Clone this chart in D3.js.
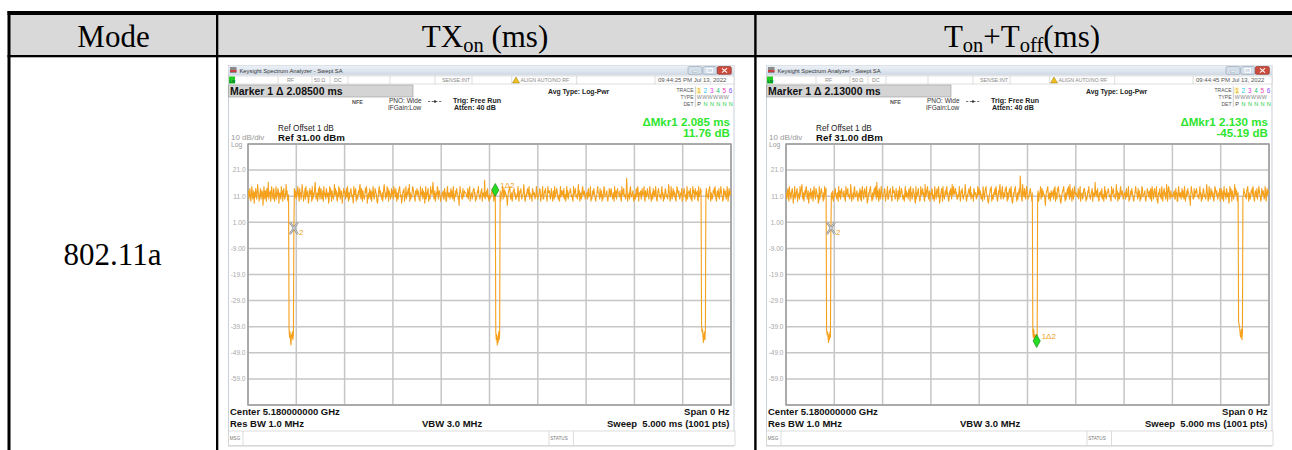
<!DOCTYPE html>
<html><head><meta charset="utf-8">
<script src="https://cdn.jsdelivr.net/npm/d3@7"></script>
<style>
html,body{margin:0;padding:0;background:#fff;}
svg{display:block;}
text{white-space:pre;}
</style></head>
<body>
<svg id="c" width="1292" height="450"></svg>
<script>
// ================= DATA =================
const headerParts = [
  [{t:"Mode"}],
  [{t:"TX"},{t:"on",sub:true},{t:" (ms)"}],
  [{t:"T"},{t:"on",sub:true},{t:"+T"},{t:"off",sub:true},{t:"(ms)"}]
];
const modes = ["802.11a"];

const refLevel = 31;          // dBm, top of graticule
const dbPerDiv = 10;
const yDivisions = 10;
const xDivisions = 10;
const sweepMs = 5.0;
const sweepPts = 1001;
const yTickValues = [21, 11, 1, -9, -19, -29, -39, -49, -59];
const yTickLabels = ["21.0", "11.0", "1.00", "-9.00", "-19.0", "-29.0", "-39.0", "-49.0", "-59.0"];

const markerBoxText = ["Marker 1 \u0394 2.08500 ms", "Marker 1 \u0394 2.13000 ms"];
const timestamps = ["09:44:25 PM Jul 13, 2022", "09:44:45 PM Jul 13, 2022"];
const deltaTimeText = ["\u0394Mkr1 2.085 ms", "\u0394Mkr1 2.130 ms"];
const deltaLevelText = ["11.76 dB", "-45.19 dB"];

// trace noise: one letter per sweep point; 'j' = 11.5 dBm, each letter step = 0.8 dB
const noiseScale = "abcdefghijklmnopqrst";
const noiseA = [
"jlhkmigjnkhjlfkimjhkoljgikmhjlkeinjhlkgmjiphkjlgin",
"kjhmlgijnhkjmlfjkihnjlgkmjhikojlhgjkmnihjlkegjmkil",
"hkjnligmjkhjolkgijmhnjkilfhjmkjlgnhikjmplhjkgimjnh",
"jmkhilgnjkjhmlijkfhnjmkgljihkojmjlhgkinjmhjlkfijmk",
"ljhkminjgkhjlmkijhfnkjlmgjihkljnojhmkgljihjmknlfjh",
"kimjhlgkjnjhimlkjgfhkmnjljihkgjmoljhkinjmglkjhimjl",
"jhnklimjgkjhlmnkijfhjlkmgjinhkjlmjogkhjilnmkjhgljk",
"mjlkhignjkjmhlikfjnhkjlmgijhnkljmpkhjlgikjnmhjlkig",
"iikjlhhmjkgglnjikkhjmiljhnkgjiljmkkhiejnlkjhhmijlk",
"kkjiimhjlngjjkhilmmjkgihjlknjjhiklmgjkjiqhkjlimjhg",
"jhiiklmjjgkhnjlikjhmjjlgikknhjmilkjjheiklmnjhjkgil",
"lmjkhhjiknjgjlkmihjjkolhgjiklmjjnhkiijgmljkkhjinlj",
"hjjkmlgijknhhjlkmjigjnkkljhimjjglkhnijkmljhhjgknil",
"kjlimhjjgknilhjkkmljijhgnjklmiijhkojlgjkhimnjjlkhi",
"jkkhlmijjngihkljmkjhgijlnkkjhmijlgjhknmijjklhgijmk",
"ilmjjhkkgnjilhjmkkjiljhgnkjlmijjhkrlgijkhmnjijklhg",
"jjhkmilnjgkkjlhimjjknhgljikmjjhlnkigjkhmjlijnkhgjl",
"mkiijhlnjkgjhkmlijjhkoljginkhjmjlikhgjnmkjlihjkjmg",
"hjlmkijgjnhkkljimhjgjnklihmjkjlhgnijkmljhkijnhgkjm",
"kijhlmnjgkjhilkmjnjhgkljimhjknljighmkjljhinkgjmjlk",
"jlmhkijgnkjhljmkinjhgkljmijhnkjlgmihjkljnhmkgijljh",
"kjhlmijgnkjhlmkijhgnjkmljihk"
];
const noiseB = [
"kjhlmignjkhjlmkfjinhkjlmgjikhnjlmojhkgiljmnkhjlfik",
"jmhkilgjnkjhmlkijfgnhjkmljigkhnjlmjkhogilmjnkhjlgi",
"ilmjjhkkgnjilhjmkkjiljhgnkjlmijjhkolgijkhmnjijklhg",
"jkimhlgjnkjhlmkijnfghkjlmnjigkhjlmjnkhpiljgmkhjnlj",
"hjjkmlgijknhhjlkmjigjnkkljhimjjglkhnijkmljhhjgknil",
"ijkhlmjgnjkhimlkjgfnhkjlmjighnkjlmjkhgoiljmnkhjlgj",
"kjmlhijgnkjhlmkinjfhjkmlgnjihkljmnjkhgiljmkhojlnjk",
"lmjkhhjiknjgjlkmihjjkolhgjiklmjjnhkiijgmljkkhjinlj",
"mjlkhijgnkjhlmnkjigfhjkmlngjihkjlmjnkhgiljmokhjlnj",
"hkjimlnjgkhjlmkinjgfhkjlmnjigkhjlmjsnkhgoljimkhjnl",
"jhiiklmjjgkhnjlikjhmjjlgikknhjmilkjjheiklmnjhjkgil",
"ikjlhmjngkjhmlnkijgfhjklmnjigkhjlmjnkhoiljgmkhjnlj",
"kkjiimhjlngjjkhilmmjkgihjlknjjhiklmgjkjipkjlimjhgk",
"kjlimhjjgknilhjkkmljijhgnjklmiijhkojlgjkhimnjjlkhi",
"jkkhlmijjngihkljmkjhgijlnkkjhmijlgjhknmijjklhgijmk",
"kiljhmjgnkjhlmkijnhgfkjlmijhnkgjlmjkhiolgjnmkhjlij",
"iikjlhhmjkgglnjikkhjmiljhnkgjiljmkkhiejnlkjhhmijlk",
"mkiijhlnjkgjhkmlijjhkoljginkhjmjlikhgjnmkjlihjkjmg",
"jmkhilgnjkjhmlijkfhnjmkgljihkojmjlhgkinjmhjlkfijmk",
"kijhlmnjgkjhilkmjnjhgkljimhjknljighmkjljhinkgjmjlk",
"ljhkminjgkhjlmkijhfnkjlmgjihkljnojhmkgljihjmknlfjh",
"jlkhmingjkjhlmnkijfghjkmlnjih"
];
// burst gaps (sweep point index, dBm values)
const dropsA = [
  {start: 85,  values: [-40, -43, -41, -44, -46, -42, -43, -41, -44, -42, -1.2]},
  {start: 512, values: [13.4, -41, -44, -42, -46, -43, -45, -41, -44, -42]},
  {start: 939, values: [-38, -41, -40, -43, -45, -42, -41, -44, -40]}
];
const dropsB = [
  {start: 84,  values: [-40, -42, -41, -43, -45, -42, -44, -41, -43, -1.2]},
  {start: 511, values: [-41, -43, -40, -44, -42, -45, -43, -42, -44.5, -42]},
  {start: 937, values: [-37, -38, -39, -41, -43, -42, -40, -44, -41]}
];
const markersA = {ref: 95, delta: 512};
const markersB = {ref: 93, delta: 519};

const traceDigitColors = ["#e0a000", "#22c8e8", "#e040e0", "#22c070", "#f040b0", "#8050ff"];

// ================= HELPERS =================
function buildTrace(lines, drops) {
  const chars = lines.join("").split("").slice(0, sweepPts);
  const tr = chars.map(c => 11.5 + 0.8 * (noiseScale.indexOf(c) - 9));
  drops.forEach(d => d.values.forEach((v, k) => { tr[d.start + k] = v; }));
  return tr;
}
const traceA = buildTrace(noiseA, dropsA);
const traceB = buildTrace(noiseB, dropsB);

const svg = d3.select("#c");
const SERIF = "'Liberation Serif','Times New Roman',serif";
const SANS = "'Liberation Sans',Arial,sans-serif";

const defs = svg.append("defs");
const tb = defs.append("linearGradient").attr("id", "tb").attr("x1", 0).attr("y1", 0).attr("x2", 0).attr("y2", 1);
tb.append("stop").attr("offset", "0%").attr("stop-color", "#eef2f7");
tb.append("stop").attr("offset", "100%").attr("stop-color", "#cfd9e5");

function txt(g, x, y, s, o = {}) {
  const t = g.append("text").attr("x", x).attr("y", y).text(s)
    .attr("font-size", o.size || 8)
    .attr("fill", o.fill || "#000");
  if (o.bold) t.attr("font-weight", "bold");
  if (o.anchor) t.attr("text-anchor", o.anchor);
  if (o.family) t.attr("font-family", o.family);
  return t;
}

// ================= TABLE =================
svg.append("rect").attr("x", 10).attr("y", 15).attr("width", 1290).attr("height", 40).attr("fill", "#d9d9d9");
svg.append("rect").attr("x", 7.5).attr("y", 11).attr("width", 1295).attr("height", 4).attr("fill", "#000");
svg.append("rect").attr("x", 7.5).attr("y", 55).attr("width", 1295).attr("height", 2.3).attr("fill", "#000");
svg.append("rect").attr("x", 7.5).attr("y", 11).attr("width", 3).attr("height", 440).attr("fill", "#000");
svg.append("rect").attr("x", 216).attr("y", 11).attr("width", 2.3).attr("height", 440).attr("fill", "#000");
svg.append("rect").attr("x", 754.2).attr("y", 11).attr("width", 2.4).attr("height", 440).attr("fill", "#000");

const headerCenters = [113.5, 485, 1022];
function richText(parts, cx, y, size, subSize) {
  const t = svg.append("text").attr("x", 0).attr("y", y)
    .attr("font-family", SERIF).attr("font-size", size).attr("fill", "#000");
  let shifted = 0;
  parts.forEach(p => {
    const dy = p.sub ? 5 - shifted : -shifted;
    shifted = p.sub ? 5 : 0;
    t.append("tspan").text(p.t).attr("font-size", p.sub ? subSize : size).attr("dy", dy);
  });
  const w = t.node().getComputedTextLength();
  t.attr("x", cx - w / 2);
}
headerParts.forEach((p, i) => richText(p, headerCenters[i], 46.7, 31, 20.5));
modes.forEach(m => txt(svg, 112.5, 265, m, {size: 31, anchor: "middle", family: SERIF}));

// ================= SCREENSHOT =================
function drawScreen(ox, k, trace, mk) {
  const g = svg.append("g").attr("transform", `translate(${ox},0)`).attr("font-family", SANS);

  // window
  g.append("rect").attr("x", 228.5).attr("y", 65.5).attr("width", 505.5).attr("height", 380.5)
    .attr("fill", "#fff").attr("stroke", "#bcc5cf").attr("stroke-width", 0.8);
  g.append("rect").attr("x", 228.5).attr("y", 65.5).attr("width", 505.5).attr("height", 9.8).attr("fill", "url(#tb)");
  g.append("rect").attr("x", 230).attr("y", 67).attr("width", 6.5).attr("height", 6).attr("fill", "#8a8a8a");
  g.append("rect").attr("x", 230).attr("y", 70.2).attr("width", 6.5).attr("height", 1.6).attr("fill", "#d83030");
  txt(g, 239.5, 72.6, "Keysight Spectrum Analyzer - Swept SA", {size: 5.8, fill: "#333"});
  // window buttons
  [[688, "#d5dfea", "#8ea0b6"], [702.8, "#d5dfea", "#8ea0b6"], [717.3, "#cc4b3c", "#8a2a20"]].forEach(b => {
    g.append("rect").attr("x", b[0]).attr("y", 66.5).attr("width", 14).attr("height", 7.8).attr("rx", 1.5)
      .attr("fill", b[1]).attr("stroke", b[2]).attr("stroke-width", 0.6);
  });
  g.append("rect").attr("x", 692.5).attr("y", 71).attr("width", 5).attr("height", 1.3).attr("fill", "#fff").attr("stroke", "#7a8a9a").attr("stroke-width", 0.3);
  g.append("rect").attr("x", 707).attr("y", 68.5).attr("width", 5.5).attr("height", 3.8).attr("fill", "none").attr("stroke", "#fff").attr("stroke-width", 0.9);
  g.append("path").attr("d", "M722,68.3 L727,72.7 M727,68.3 L722,72.7").attr("stroke", "#fff").attr("stroke-width", 1.1);

  // status row
  g.append("rect").attr("x", 228.5).attr("y", 76).attr("width", 505.5).attr("height", 8)
    .attr("fill", "#fff").attr("stroke", "#c8c8c8").attr("stroke-width", 0.6);
  [278, 312, 330, 348, 390, 435, 472, 511.7, 576.7, 655].forEach(x =>
    g.append("line").attr("x1", x).attr("x2", x).attr("y1", 76).attr("y2", 84).attr("stroke", "#c8c8c8").attr("stroke-width", 0.6));
  g.append("rect").attr("x", 229).attr("y", 76.5).attr("width", 6).attr("height", 7).attr("fill", "#22cc22");
  txt(g, 229.6, 82.5, "LXI", {size: 3.6, fill: "#063", bold: true});
  txt(g, 287, 82.3, "RF", {size: 5.3, fill: "#888"});
  txt(g, 314, 82.3, "50 \u03a9", {size: 5.3, fill: "#888"});
  txt(g, 334, 82.3, "DC", {size: 5.3, fill: "#888"});
  txt(g, 442, 82.3, "SENSE:INT", {size: 5.3, fill: "#888"});
  g.append("path").attr("d", "M516,77 L519.5,83 L512.5,83 Z").attr("fill", "#f0c020").attr("stroke", "#806000").attr("stroke-width", 0.4);
  txt(g, 520.5, 82.3, "ALIGN AUTO/NO RF", {size: 5.2, fill: "#888"});
  txt(g, 658, 82.4, timestamps[k], {size: 6, fill: "#555"});

  // marker box
  g.append("rect").attr("x", 228.5).attr("y", 85).attr("width", 184.5).attr("height", 12)
    .attr("fill", "#d4d4d4").attr("stroke", "#9a9a9a").attr("stroke-width", 0.6);
  txt(g, 230, 95, markerBoxText[k], {size: 10.5, bold: true, fill: "#111"});

  // settings
  txt(g, 352, 103.5, "NFE", {size: 5.5, bold: true, fill: "#555"});
  txt(g, 389, 103.2, "PNO: Wide", {size: 6.5, fill: "#333"});
  txt(g, 388, 110.3, "IFGain:Low", {size: 6.5, fill: "#333"});
  g.append("line").attr("x1", 428).attr("x2", 442).attr("y1", 101.5).attr("y2", 101.5)
    .attr("stroke", "#333").attr("stroke-width", 0.7).attr("stroke-dasharray", "2.2,1.5");
  g.append("circle").attr("cx", 435).attr("cy", 101.5).attr("r", 1.2).attr("fill", "#333");
  txt(g, 453, 102.5, "Trig: Free Run", {size: 7.1, bold: true, fill: "#222"});
  txt(g, 454, 109.8, "Atten: 40 dB", {size: 7.1, bold: true, fill: "#222"});
  txt(g, 548, 93.8, "Avg Type: Log-Pwr", {size: 6.8, bold: true, fill: "#222"});

  // trace table
  txt(g, 693.5, 92, "TRACE", {size: 5, anchor: "end", fill: "#555"});
  txt(g, 693.5, 98.8, "TYPE", {size: 5, anchor: "end", fill: "#555"});
  txt(g, 693.5, 105.8, "DET", {size: 5, anchor: "end", fill: "#555"});
  g.append("line").attr("x1", 695.3).attr("x2", 695.3).attr("y1", 86.5).attr("y2", 107).attr("stroke", "#aaa").attr("stroke-width", 0.6);
  g.append("rect").attr("x", 696.2).attr("y", 87.3).attr("width", 5).attr("height", 6.8).attr("fill", "#fff6c8");
  traceDigitColors.forEach((c, i) => {
    txt(g, 697.3 + i * 6.3, 93.3, String(i + 1), {size: 6.4, fill: c});
    txt(g, 696.8 + i * 5.4, 99.3, "W", {size: 5.4, fill: "#888"});
    txt(g, 697.3 + i * 6.3, 106, i === 0 ? "P" : "N", {size: 5.6, fill: i === 0 ? "#444" : "#22cc44"});
  });

  // delta readout
  txt(g, 730, 126, deltaTimeText[k], {size: 11.6, bold: true, anchor: "end", fill: "#2ee52e"});
  txt(g, 730, 137.4, deltaLevelText[k], {size: 11.6, bold: true, anchor: "end", fill: "#2ee52e"});

  // ref
  txt(g, 278, 130.5, "Ref Offset 1 dB", {size: 8.2, fill: "#222"});
  txt(g, 278, 141.4, "Ref 31.00 dBm", {size: 9.7, bold: true, fill: "#111"});
  txt(g, 231, 139.8, "10 dB/div", {size: 8, fill: "#9a9a9a"});
  txt(g, 231, 147.2, "Log", {size: 6.8, fill: "#9a9a9a"});

  // plot
  const x = d3.scaleLinear().domain([0, sweepMs]).range([248, 731]);
  const y = d3.scaleLinear().domain([refLevel - dbPerDiv * yDivisions, refLevel]).range([405, 144]);
  const plot = g.append("g");
  plot.append("rect").attr("x", 248).attr("y", 144).attr("width", 483).attr("height", 261).attr("fill", "#fff");
  const xGrid = d3.range(xDivisions + 1).map(i => i * sweepMs / xDivisions);
  const yGrid = d3.range(yDivisions + 1).map(i => refLevel - i * dbPerDiv);
  plot.selectAll(".vg").data(xGrid).join("line")
    .attr("x1", d => x(d)).attr("x2", d => x(d)).attr("y1", y.range()[1]).attr("y2", y.range()[0])
    .attr("stroke", "#c6c6c6").attr("stroke-width", 1.5);
  plot.selectAll(".hg").data(yGrid).join("line")
    .attr("x1", x.range()[0]).attr("x2", x.range()[1]).attr("y1", d => y(d)).attr("y2", d => y(d))
    .attr("stroke", "#c6c6c6").attr("stroke-width", 1.5);
  plot.append("rect").attr("x", 248).attr("y", 144).attr("width", 483).attr("height", 261)
    .attr("fill", "none").attr("stroke", "#9c9c9c").attr("stroke-width", 1.5);
  yTickValues.forEach((v, i) =>
    txt(plot, 245.5, y(v) + 2.3, yTickLabels[i], {size: 6.5, anchor: "end", fill: "#a8a8a8"}));

  const clipId = "clip" + k;
  defs.append("clipPath").attr("id", clipId).append("rect").attr("x", 248 + ox).attr("y", 144).attr("width", 483).attr("height", 261);
  const line = d3.line().x((d, i) => x(i * sweepMs / (sweepPts - 1))).y(d => y(d));
  svg.append("g").attr("clip-path", `url(#${clipId})`)
    .append("path").attr("transform", `translate(${ox},0)`)
    .attr("d", line(trace)).attr("fill", "none").attr("stroke", "#f5a11c").attr("stroke-width", 1.1).attr("stroke-linejoin", "round");

  // markers
  const mg = svg.append("g").attr("transform", `translate(${ox},0)`).attr("font-family", SANS);
  const rx = x(mk.ref * sweepMs / (sweepPts - 1)), ry = y(trace[mk.ref]);
  const xPath = `M${rx - 4},${ry - 6} L${rx + 4},${ry + 6} M${rx + 4},${ry - 6} L${rx - 4},${ry + 6}`;
  mg.append("path").attr("d", xPath).attr("stroke", "#8c8c8c").attr("stroke-width", 2.2).attr("fill", "none");
  mg.append("path").attr("d", xPath).attr("stroke", "#f4f4f4").attr("stroke-width", 0.7).attr("fill", "none");
  txt(mg, rx + 5, ry + 7, "2", {size: 8, fill: "#f0a020"});
  const dx = x(mk.delta * sweepMs / (sweepPts - 1)), dyv = y(trace[mk.delta]);
  mg.append("path").attr("d", `M${dx},${dyv - 6.5} L${dx + 3.6},${dyv} L${dx},${dyv + 6.5} L${dx - 3.6},${dyv} Z`)
    .attr("fill", "#22dd22").attr("stroke", "#1a7a1a").attr("stroke-width", 0.6);
  txt(mg, dx + 5, dyv - 2, "1\u03942", {size: 8, fill: "#f0a020"});

  // bottom info
  txt(g, 230, 415, "Center 5.180000000 GHz", {size: 9.5, bold: true, fill: "#111"});
  txt(g, 230, 426.5, "Res BW 1.0 MHz", {size: 9.5, bold: true, fill: "#111"});
  txt(g, 422, 426.5, "VBW 3.0 MHz", {size: 9.5, bold: true, fill: "#111"});
  txt(g, 729.5, 415, "Span 0 Hz", {size: 9.5, bold: true, anchor: "end", fill: "#111"});
  txt(g, 729.5, 426.5, "Sweep  5.000 ms (1001 pts)", {size: 9.5, bold: true, anchor: "end", fill: "#111"});

  // message bar
  g.append("rect").attr("x", 228.5).attr("y", 431).attr("width", 506.5).attr("height", 14.5)
    .attr("fill", "#fff").attr("stroke", "#cfcfcf").attr("stroke-width", 0.7);
  [243, 549, 573.5].forEach(xx =>
    g.append("line").attr("x1", xx).attr("x2", xx).attr("y1", 431).attr("y2", 445.5).attr("stroke", "#cfcfcf").attr("stroke-width", 0.7));
  txt(g, 229.8, 439.5, "MSG", {size: 4.6, fill: "#777"});
  txt(g, 550.3, 439.5, "STATUS", {size: 4.6, fill: "#777"});
}

drawScreen(0, 0, traceA, markersA);
drawScreen(538, 1, traceB, markersB);
</script>
</body></html>
